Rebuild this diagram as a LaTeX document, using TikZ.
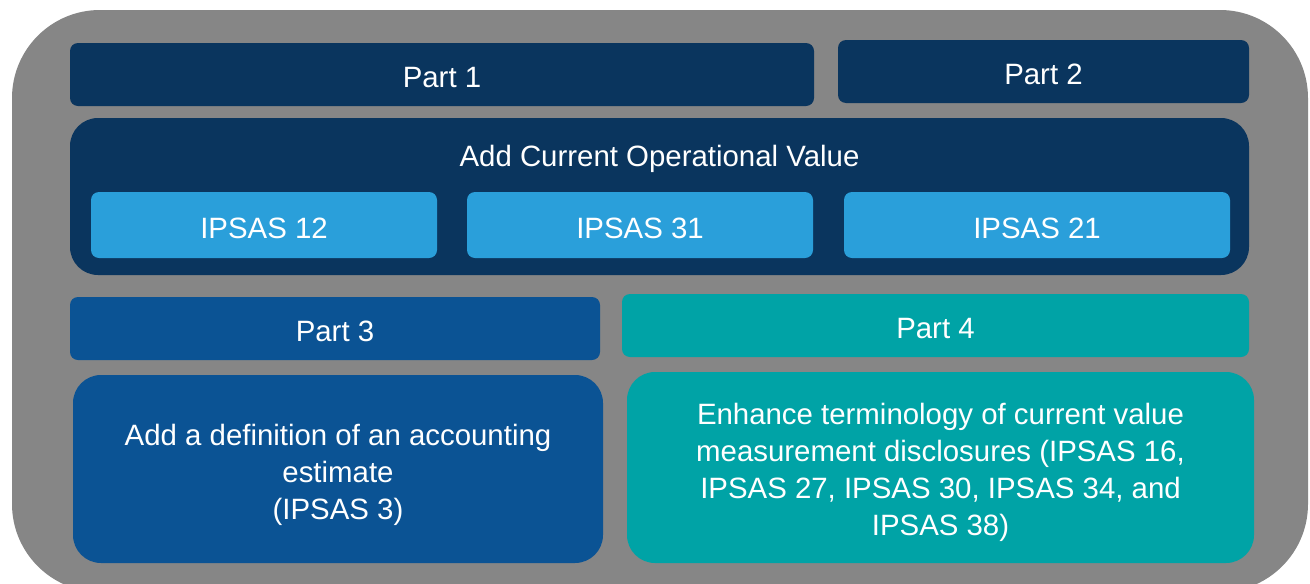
\documentclass[tikz,border=0pt]{standalone}
\usepackage{fontspec}
\setmainfont{Liberation Sans}
\definecolor{bggray}{RGB}{134,134,134}
\definecolor{navy}{RGB}{10,53,94}
\definecolor{skyb}{RGB}{42,159,218}
\definecolor{midblue}{RGB}{11,83,148}
\definecolor{teal4}{RGB}{0,163,166}
\tikzset{
  txt/.style={inner sep=0pt, text=white, font=\fontsize{29.4}{37}\selectfont, align=center},
  box/.style={txt, rounded corners=8pt, text height=26pt, text depth=0pt},
  bigbox/.style={rounded corners=28pt, inner sep=0pt},
}
\begin{document}
\begin{tikzpicture}[x=1pt,y=-1pt]
\useasboundingbox (0,0) rectangle (1310,584);
\fill[bggray, rounded corners=88pt] (12,10) rectangle (1308,592);
% top row
\node[box, fill=navy, minimum width=744pt, minimum height=63pt] (p1) at (442,74.5) {Part 1};
\node[box, fill=navy, minimum width=411pt, minimum height=63pt] (p2) at (1043.5,71.5) {Part 2};
% big box
\node[bigbox, fill=navy, minimum width=1179pt, minimum height=157pt] (cov) at (659.5,196.5) {};
\node[txt] (covt) at (659.5,159) {Add Current Operational Value};
\node[box, fill=skyb, minimum width=346pt, minimum height=66pt] (i12) at (264,225) {IPSAS 12};
\node[box, fill=skyb, minimum width=346pt, minimum height=66pt] (i31) at (640,225) {IPSAS 31};
\node[box, fill=skyb, minimum width=386pt, minimum height=66pt] (i21) at (1037,225) {IPSAS 21};
% part 3 / part 4
\node[box, fill=midblue, minimum width=530pt, minimum height=63pt] (p3) at (335,328.5) {Part 3};
\node[box, fill=teal4, minimum width=627pt, minimum height=63pt] (p4) at (935.5,325.5) {Part 4};
\node[bigbox, fill=midblue, minimum width=530pt, minimum height=188pt] (p3b) at (338,469) {};
\node[txt] (p3t) at (338,474.5) {Add a definition of an accounting\\estimate\\(IPSAS 3)};
\node[bigbox, fill=teal4, minimum width=627pt, minimum height=191pt] (p4b) at (940.5,467.5) {};
\node[txt] (p4t) at (940.5,472.5) {Enhance terminology of current value\\measurement disclosures (IPSAS 16,\\IPSAS 27, IPSAS 30, IPSAS 34, and\\IPSAS 38)};
\end{tikzpicture}
\end{document}
